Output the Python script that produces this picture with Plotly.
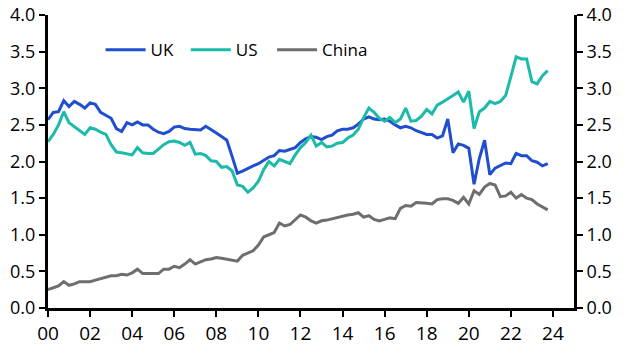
import plotly.graph_objects as go

start_year = 2000
uk = [2.57, 2.67, 2.68, 2.83, 2.75, 2.82, 2.78, 2.73, 2.80, 2.78, 2.67, 2.63,
      2.59, 2.45, 2.41, 2.53, 2.50, 2.54, 2.50, 2.50, 2.44, 2.40, 2.38, 2.41,
      2.47, 2.48, 2.45, 2.44, 2.44, 2.43, 2.48, 2.44, 2.39, 2.34, 2.29, 2.07,
      1.84, 1.87, 1.91, 1.94, 1.97, 2.01, 2.06, 2.08, 2.15, 2.14, 2.16, 2.19,
      2.26, 2.31, 2.34, 2.33, 2.30, 2.34, 2.36, 2.42, 2.44, 2.44, 2.46, 2.51,
      2.58, 2.61, 2.58, 2.57, 2.58, 2.55, 2.50, 2.46, 2.48, 2.46, 2.42, 2.40,
      2.37, 2.37, 2.32, 2.35, 2.58, 2.12, 2.24, 2.22, 2.18, 1.69, 2.04, 2.29,
      1.82, 1.91, 1.94, 1.98, 1.97, 2.11, 2.08, 2.08, 2.01, 1.99, 1.94, 1.97]
us = [2.27, 2.37, 2.50, 2.68, 2.53, 2.48, 2.42, 2.37, 2.46, 2.44, 2.40, 2.37,
      2.23, 2.13, 2.12, 2.11, 2.09, 2.19, 2.12, 2.11, 2.11, 2.17, 2.23, 2.27,
      2.28, 2.26, 2.22, 2.26, 2.10, 2.11, 2.08, 2.01, 2.00, 1.92, 1.93, 1.87,
      1.68, 1.66, 1.58, 1.64, 1.73, 1.89, 2.00, 1.94, 2.03, 2.00, 1.97, 2.09,
      2.19, 2.26, 2.36, 2.21, 2.26, 2.20, 2.21, 2.25, 2.26, 2.32, 2.36, 2.44,
      2.60, 2.73, 2.67, 2.59, 2.55, 2.60, 2.53, 2.58, 2.73, 2.55, 2.56, 2.62,
      2.71, 2.65, 2.77, 2.81, 2.85, 2.90, 2.95, 2.81, 2.96, 2.45, 2.68, 2.73,
      2.82, 2.79, 2.82, 2.90, 3.16, 3.43, 3.40, 3.40, 3.09, 3.06, 3.17, 3.24]
china = [0.25, 0.27, 0.30, 0.36, 0.31, 0.33, 0.36, 0.36, 0.36, 0.38, 0.40, 0.42,
         0.44, 0.44, 0.46, 0.45, 0.48, 0.53, 0.47, 0.47, 0.47, 0.47, 0.53, 0.53,
         0.57, 0.55, 0.60, 0.66, 0.60, 0.63, 0.66, 0.67, 0.69, 0.68, 0.67, 0.66,
         0.64, 0.72, 0.75, 0.78, 0.86, 0.97, 1.00, 1.03, 1.16, 1.12, 1.14, 1.20,
         1.27, 1.24, 1.19, 1.16, 1.19, 1.20, 1.22, 1.23, 1.25, 1.27, 1.28, 1.30,
         1.24, 1.26, 1.21, 1.19, 1.21, 1.23, 1.22, 1.36, 1.40, 1.39, 1.44, 1.44,
         1.43, 1.42, 1.48, 1.49, 1.49, 1.47, 1.43, 1.51, 1.42, 1.60, 1.55, 1.65,
         1.70, 1.68, 1.52, 1.53, 1.58, 1.50, 1.55, 1.50, 1.48, 1.42, 1.38, 1.34]
x_tick_vals = list(range(2000, 2025, 2))
x_tick_text = ["00", "02", "04", "06", "08", "10", "12", "14", "16", "18", "20", "22", "24"]
y_tick_vals = [0.0, 0.5, 1.0, 1.5, 2.0, 2.5, 3.0, 3.5, 4.0]

x = [start_year + i * 0.25 for i in range(len(uk))]

FONT = "Open Sans"
fig = go.Figure()
fig.add_trace(go.Scatter(x=x, y=uk, name="UK", mode="lines", legend="legend",
                         line=dict(color="#1f4fcf", width=3)))
fig.add_trace(go.Scatter(x=x, y=us, name="US", mode="lines", legend="legend2",
                         line=dict(color="#1cbaa8", width=3)))
fig.add_trace(go.Scatter(x=x, y=china, name="China", mode="lines", legend="legend3",
                         line=dict(color="#6e6e6e", width=3)))
fig.add_trace(go.Scatter(x=[x[0]], y=[china[0]], yaxis="y2", mode="lines",
                         line=dict(width=0), showlegend=False, hoverinfo="skip"))

axis_common = dict(showgrid=False, zeroline=False, showline=True, linecolor="black",
                   linewidth=3, ticks="outside", ticklen=6, tickwidth=2, tickcolor="black",
                   automargin=False)

legend_common = dict(orientation="h", y=0.88, xanchor="left", yanchor="middle",
                     bgcolor="rgba(0,0,0,0)", font=dict(family=FONT, size=17), itemwidth=40)

fig.update_layout(
    width=629, height=353,
    margin=dict(l=48, r=55, t=15, b=45, autoexpand=False),
    paper_bgcolor="white", plot_bgcolor="white",
    font=dict(family=FONT, size=17, color="black"),
    xaxis=dict(range=[2000, 2025], tickvals=x_tick_vals, ticktext=x_tick_text,
               tickfont=dict(family=FONT, size=19, color="black"), **axis_common),
    yaxis=dict(range=[0, 4], tickvals=y_tick_vals, tickformat=".1f",
               tickfont=dict(family=FONT, size=18, color="black"), **axis_common),
    yaxis2=dict(range=[0, 4], tickvals=y_tick_vals, tickformat=".1f", overlaying="y",
                side="right", tickfont=dict(family=FONT, size=18, color="black"), **axis_common),
    legend=dict(x=0.1, **legend_common),
    legend2=dict(x=0.262, **legend_common),
    legend3=dict(x=0.426, **legend_common),
    showlegend=True,
)

fig.write_html("out.html")
